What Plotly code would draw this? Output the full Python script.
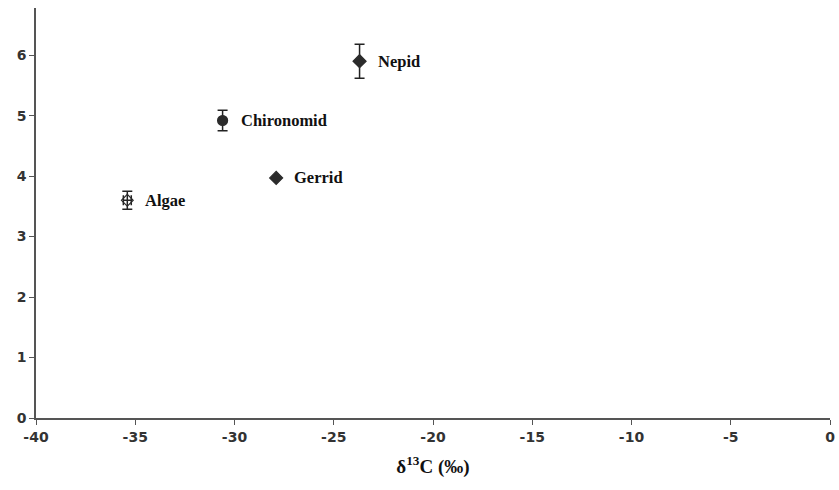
import plotly.graph_objects as go

names = ["Nepid", "Chironomid", "Gerrid", "Algae"]
d13c = [-23.7, -30.6, -27.9, -35.4]
d15n = [5.9, 4.92, 3.97, 3.6]
err_y = [0.28, 0.17, 0.0, 0.15]
err_x = [0.0, 0.0, 0.0, 0.2]
symbols = ["diamond", "circle", "diamond", "diamond-open"]
sizes = [10, 10, 10, 9]

x_ticks = [-40, -35, -30, -25, -20, -15, -10, -5, 0]
y_ticks = [0, 1, 2, 3, 4, 5, 6]

fig = go.Figure()
fig.add_trace(go.Scatter(
    x=d13c, y=d15n, mode="markers",
    marker=dict(symbol=symbols, size=sizes, color="#2b2b2b", opacity=1,
                line=dict(color="#2b2b2b", width=1.2)),
    error_y=dict(type="data", array=err_y, color="#222222", thickness=1.5, width=5),
    error_x=dict(type="data", array=err_x, color="#222222", thickness=1.5, width=5),
    showlegend=False,
))

for n, x, y in zip(names, d13c, d15n):
    fig.add_annotation(x=x, y=y, text="<b>" + n + "</b>", showarrow=False,
                       xanchor="left", yanchor="middle", xshift=16,
                       font=dict(family="Liberation Serif", size=16.5, color="#111111"))

axis_font = dict(family="DejaVu Sans", size=14, color="#333333")
fig.update_layout(
    width=839, height=490,
    margin=dict(l=36, r=9, t=8, b=72),
    plot_bgcolor="white", paper_bgcolor="white",
    xaxis=dict(range=[-40, 0], tickvals=x_ticks, ticktext=[f"<b>{v}</b>" for v in x_ticks],
               showgrid=False, zeroline=False, showline=True, linecolor="#555555",
               linewidth=1.5, ticks="outside", ticklen=5, tickcolor="#555555",
               tickfont=axis_font, automargin=False,
               title=dict(text="<b>δ<sup>13</sup>C (‰)</b>", standoff=16,
                          font=dict(family="Liberation Serif", size=19, color="#111111"))),
    yaxis=dict(range=[0, 6.78], tickvals=y_ticks, ticktext=[f"<b>{v}</b>" for v in y_ticks],
               showgrid=False, zeroline=False, showline=True, linecolor="#555555",
               linewidth=1.5, ticks="outside", ticklen=5, tickcolor="#555555",
               tickfont=axis_font, automargin=False),
)

fig.write_html("out.html", config={"displayModeBar": False},
               post_script="document.body.style.margin='0';document.body.style.overflow='hidden';")
